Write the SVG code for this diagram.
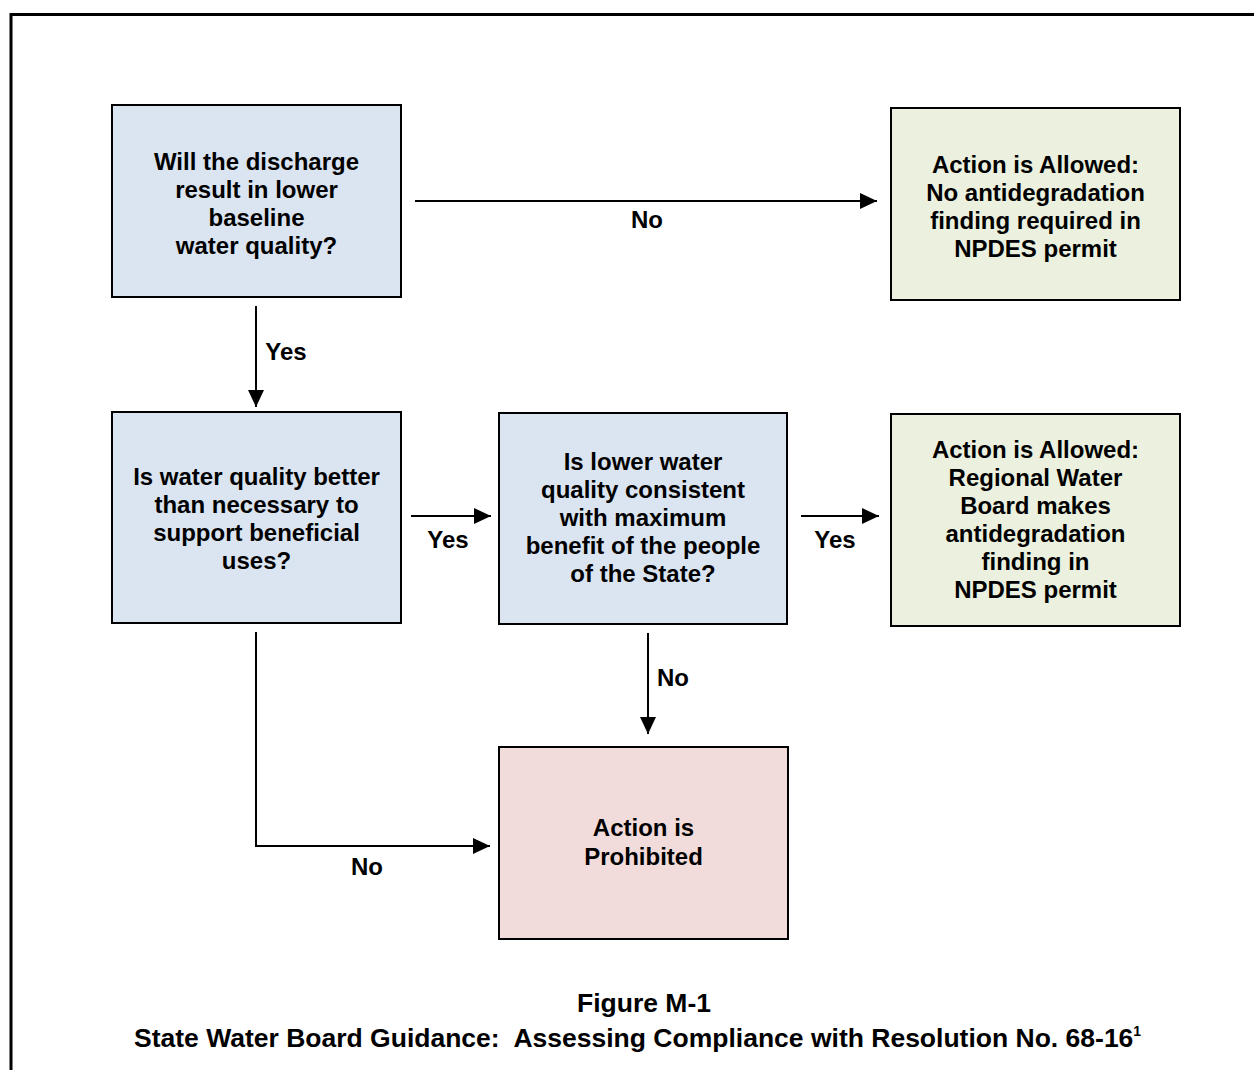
<svg xmlns="http://www.w3.org/2000/svg" width="1254" height="1070" viewBox="0 0 1254 1070">
<defs>
<style>
.box{stroke:#000;stroke-width:2}
.q{fill:#dbe5f1}
.ok{fill:#ebf1de}
.no{fill:#f2dcdb}
text{font-family:"Liberation Sans",Arial,sans-serif;font-weight:bold;font-size:24px;fill:#000;text-anchor:middle}
.cap{font-size:26.5px;white-space:pre}
.line{stroke:#000;stroke-width:2;fill:none}
</style>
<marker id="ah" viewBox="0 0 17 16" markerWidth="17" markerHeight="16" refX="17" refY="8" orient="auto" markerUnits="userSpaceOnUse">
<path d="M0,0 L17,8 L0,16 Z" fill="#000"/>
</marker>
</defs>
<rect width="1254" height="1070" fill="#fff"/>
<path d="M11,1070 V14.5 H1254" fill="none" stroke="#000" stroke-width="3"/>
<g id="connectors">
<line class="line" x1="415" y1="201" x2="877" y2="201" marker-end="url(#ah)"/>
<line class="line" x1="256" y1="306" x2="256" y2="407" marker-end="url(#ah)"/>
<line class="line" x1="411" y1="516" x2="491" y2="516" marker-end="url(#ah)"/>
<line class="line" x1="801" y1="516" x2="879" y2="516" marker-end="url(#ah)"/>
<line class="line" x1="648" y1="633" x2="648" y2="734" marker-end="url(#ah)"/>
<polyline class="line" points="256,632 256,846 490,846" marker-end="url(#ah)"/>
<text x="647" y="228">No</text>
<text x="286" y="360">Yes</text>
<text x="448" y="548">Yes</text>
<text x="835" y="548">Yes</text>
<text x="673" y="686">No</text>
<text x="367" y="875">No</text>
</g>
<g id="q1">
<rect class="box q" x="112" y="105" width="289" height="192"/>
<text x="256.5" y="170">Will the discharge</text>
<text x="256.5" y="198">result in lower</text>
<text x="256.5" y="226">baseline</text>
<text x="256.5" y="254">water quality?</text>
</g>
<g id="allowed1">
<rect class="box ok" x="891" y="108" width="289" height="192"/>
<text x="1035.5" y="173">Action is Allowed:</text>
<text x="1035.5" y="201">No antidegradation</text>
<text x="1035.5" y="229">finding required in</text>
<text x="1035.5" y="257">NPDES permit</text>
</g>
<g id="q2">
<rect class="box q" x="112" y="412" width="289" height="211"/>
<text x="256.5" y="485">Is water quality better</text>
<text x="256.5" y="513">than necessary to</text>
<text x="256.5" y="541">support beneficial</text>
<text x="256.5" y="569">uses?</text>
</g>
<g id="q3">
<rect class="box q" x="499" y="413" width="288" height="211"/>
<text x="643" y="470">Is lower water</text>
<text x="643" y="498">quality consistent</text>
<text x="643" y="526">with maximum</text>
<text x="643" y="554">benefit of the people</text>
<text x="643" y="582">of the State?</text>
</g>
<g id="allowed2">
<rect class="box ok" x="891" y="414" width="289" height="212"/>
<text x="1035.5" y="458">Action is Allowed:</text>
<text x="1035.5" y="486">Regional Water</text>
<text x="1035.5" y="514">Board makes</text>
<text x="1035.5" y="542">antidegradation</text>
<text x="1035.5" y="570">finding in</text>
<text x="1035.5" y="598">NPDES permit</text>
</g>
<g id="prohibited">
<rect class="box no" x="499" y="747" width="289" height="192"/>
<text x="643.5" y="836">Action is</text>
<text x="643.5" y="865">Prohibited</text>
</g>
<g id="caption">
<text class="cap" x="644" y="1012">Figure M-1</text>
<text class="cap" x="134" y="1047" style="text-anchor:start">State Water Board Guidance:  Assessing Compliance with Resolution No. 68-16<tspan dy="-11" style="font-size:14px">1</tspan></text>
</g>
</svg>
